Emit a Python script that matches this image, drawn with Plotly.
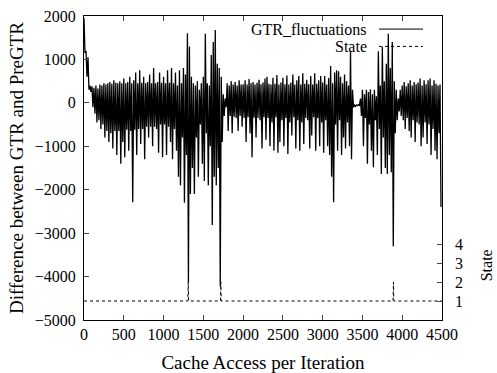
import plotly.graph_objects as go

step = 12.5
gtr = [
    1950, 1150, 1200, 600, 1050, 300, 400, 250,
    380, -100, 350, -250, 400, -450, 330, -400,
    420, -600, 400, -500, 450, -800, 420, -650,
    450, -900, 480, -700, 440, -1050, 520, -650,
    460, -1200, 450, -650, 500, -1400, 450, -900,
    560, -1250, 450, -620, 480, -1100, 600, -650,
    450, -2290, 520, -620, 700, -1200, 450, -600,
    750, -950, 460, -600, 600, -1300, 450, -550,
    480, -800, 650, -550, 450, -1000, 800, -550,
    450, -600, 480, -1150, 700, -500, 460, -1250,
    600, -500, 450, -1200, 750, -550, 460, -900,
    800, -1300, 450, -600, 700, -1100, 400, -1700,
    750, -1900, 450, -800, 800, -2300, 650, -1200,
    1600, -4130, 1300, -2100, 600, -1500, 450, -2100,
    400, -800, 500, -1700, 300, -500, 450, -1400,
    600, -1800, 1590, -700, 450, -1900, 400, -1000,
    1100, -2810, 1400, -1700, 1680, -1900, 900, -1500,
    800, -4220, 600, -900, 200, -300, 100, -100,
    450, -650, 400, -300, 500, -700, 420, -320,
    480, -350, 400, -650, 520, -300, 420, -550,
    430, -350, 520, -900, 420, -330, 550, -700,
    450, -1250, 480, -340, 420, -800, 460, -350,
    530, -400, 430, -1050, 470, -330, 560, -850,
    600, -350, 440, -1000, 420, -450, 580, -1100,
    440, -330, 640, -1150, 420, -900, 470, -400,
    580, -1000, 430, -350, 630, -1180, 420, -450,
    470, -750, 650, -330, 420, -1050, 520, -400,
    620, -1100, 420, -450, 680, -950, 440, -350,
    530, -400, 430, -1050, 620, -750, 420, -330,
    680, -1100, 440, -350, 520, -1000, 620, -450,
    470, -1150, 620, -400, 420, -1000, 570, -1200,
    850, -1700, 450, -2290, 700, -500, 750, -1100,
    730, -400, 600, -1200, 450, -800, 650, -1050,
    500, -450, 400, -1000, 1200, -1300, 300, -100,
    -50, -80, -50, -60, -40, -70, 100, -300,
    300, -1000, 200, -350, 300, -1400, 250, -500,
    310, -1100, 200, -1480, 300, -400, 150, -1200,
    1190, -600, 400, -1640, 1290, -800, 500, -1500,
    900, -1640, 1590, -1200, 800, -1600, 1400, -3300,
    500, -700, 300, -400, 100, -200, 300, -300,
    400, -400, 480, -600, 380, -350, 450, -650,
    520, -800, 400, -400, 480, -900, 430, -450,
    470, -500, 560, -1000, 400, -800, 520, -450,
    430, -950, 520, -500, 560, -1200, 400, -600,
    520, -1100, 440, -1300, 400, -700, 420, -2400,
]
gtr_x = [i * step for i in range(len(gtr))]

state_x = [0, 1305, 1310, 1315, 1715, 1720, 1725, 3885, 3890, 3895, 4500]
state_y = [1, 1, 2, 1, 1, 2, 1, 1, 2, 1, 1]

x_ticks = [0, 500, 1000, 1500, 2000, 2500, 3000, 3500, 4000, 4500]
y_ticks = [-5000, -4000, -3000, -2000, -1000, 0, 1000, 2000]
y2_ticks = [1, 2, 3, 4]

FONT = "Liberation Serif, Times New Roman, Times, serif"

fig = go.Figure()
fig.add_trace(go.Scatter(x=gtr_x, y=gtr, mode="lines", name="GTR_fluctuations",
                         line=dict(color="black", width=1.3, simplify=False), showlegend=False))
fig.add_trace(go.Scatter(x=state_x, y=state_y, mode="lines", name="State", yaxis="y2",
                         line=dict(color="black", width=1, dash="dot"), showlegend=False))

fig.update_layout(
    width=497, height=373,
    margin=dict(l=84, r=55, t=16, b=53),
    paper_bgcolor="white", plot_bgcolor="white",
    font=dict(family=FONT, size=16, color="black"),
    xaxis=dict(range=[0, 4500], tickvals=x_ticks, ticks="inside", ticklen=5,
               showline=True, linecolor="black", linewidth=1, mirror="ticks",
               showgrid=False, zeroline=False, automargin=False,
               title=dict(text="Cache Access per Iteration", standoff=15)),
    yaxis=dict(range=[-5000, 2000], tickvals=y_ticks, ticks="inside", ticklen=5,
               showline=True, linecolor="black", linewidth=1, mirror=True,
               showgrid=False, zeroline=False, ticklabelstandoff=4, automargin=False,
               title=dict(text="Difference between GTR and PreGTR", standoff=6)),
    yaxis2=dict(range=[0, 16], tickvals=y2_ticks, ticks="inside", ticklen=5,
                overlaying="y", side="right", showline=False, showgrid=False,
                zeroline=False, ticklabelstandoff=12, automargin=False),
)

# right axis title
fig.add_annotation(text="State", xref="paper", yref="paper", x=1.123, y=0.18,
                   textangle=-90, showarrow=False, xanchor="center", yanchor="middle")

# legend (gnuplot style: text left of sample)
fig.add_annotation(text="GTR_fluctuations", xref="paper", yref="paper", x=0.795, y=0.957,
                   showarrow=False, xanchor="right", yanchor="middle")
fig.add_annotation(text="State", xref="paper", yref="paper", x=0.795, y=0.9,
                   showarrow=False, xanchor="right", yanchor="middle")
fig.add_shape(type="line", xref="paper", yref="paper", x0=0.824, x1=0.947, y0=0.957, y1=0.957,
              line=dict(color="black", width=1))
fig.add_shape(type="line", xref="paper", yref="paper", x0=0.824, x1=0.947, y0=0.900, y1=0.900,
              line=dict(color="black", width=1, dash="dot"))

fig.write_html("out.html", config={"displayModeBar": False})

# remove the default page margin so the figure sits at the window's top-left corner
with open("out.html", "r", encoding="utf-8") as f:
    html = f.read()
html = html.replace("<head>", "<head><style>html,body{margin:0;padding:0;overflow:hidden;}</style>", 1)
with open("out.html", "w", encoding="utf-8") as f:
    f.write(html)
